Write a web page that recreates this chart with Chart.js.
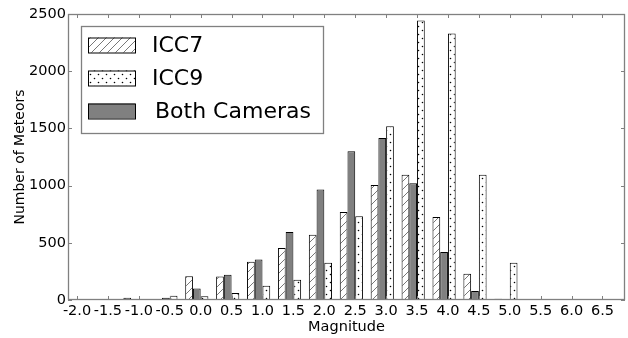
<!DOCTYPE html>
<html>
<head>
<meta charset="utf-8">
<script src="https://cdn.jsdelivr.net/npm/chart.js@4/dist/chart.umd.min.js"></script>
<style>
  html, body { margin: 0; background: #fff; }
</style>
</head>
<body>
<canvas id="meteorChart" width="628" height="338"></canvas>
<script>
// magnitude bins and counts per camera
const magnitudes = [-2.0, -1.5, -1.0, -0.5, 0.0, 0.5, 1.0, 1.5, 2.0, 2.5, 3.0, 3.5, 4.0, 4.5, 5.0, 5.5, 6.0, 6.5];
const icc7 = [4, 3, 20, 1, 208, 205, 335, 455, 570, 770, 1005, 1095, 725, 230, 12, 2, 1, 1];
const both = [2, 5, 4, 20, 101, 220, 355, 595, 965, 1300, 1415, 1020, 420, 78, 3, 2, 1, 1];
const icc9 = [0, 1, 1, 37, 33, 62, 125, 178, 325, 732, 1518, 2443, 2330, 1095, 325, 8, 1, 1];
const yTicks = [0, 500, 1000, 1500, 2000, 2500];

// matplotlib put the bars left of the tick (align='edge'), shift groups a bit
const GROUP_SHIFT = -0.0625;

Chart.defaults.font.family = "'DejaVu Sans', sans-serif";
Chart.defaults.font.size = 14;
Chart.defaults.color = '#000';

function hatchPattern() {
  const c = document.createElement('canvas');
  c.width = 8; c.height = 8;
  const g = c.getContext('2d');
  g.fillStyle = '#fff';
  g.fillRect(0, 0, 8, 8);
  g.strokeStyle = '#555';
  g.lineWidth = 0.8;
  g.beginPath();
  g.moveTo(0, 8); g.lineTo(8, 0);
  g.moveTo(-1, 1); g.lineTo(1, -1);
  g.moveTo(7, 9); g.lineTo(9, 7);
  g.stroke();
  return g.createPattern(c, 'repeat');
}

function dotPattern() {
  const c = document.createElement('canvas');
  c.width = 8; c.height = 8;
  const g = c.getContext('2d');
  g.fillStyle = '#fff';
  g.fillRect(0, 0, 8, 8);
  g.fillStyle = '#000';
  g.beginPath();
  g.arc(2.5, 2.5, 0.8, 0, Math.PI * 2);
  g.arc(6.5, 6.5, 0.8, 0, Math.PI * 2);
  g.fill();
  return g.createPattern(c, 'repeat');
}

const toPoints = vals => magnitudes.map((m, i) => ({ x: m + GROUP_SHIFT, y: vals[i] }));

// box frame + inward tick marks like matplotlib
const framePlugin = {
  id: 'frame',
  afterDatasetsDraw(chart) {
    const { ctx, chartArea: a, scales } = chart;
    ctx.save();
    ctx.strokeStyle = '#808080';
    ctx.lineWidth = 1;
    ctx.beginPath();
    scales.x.ticks.forEach(t => {
      const px = Math.round(scales.x.getPixelForValue(t.value)) + 0.5;
      ctx.moveTo(px, a.top); ctx.lineTo(px, a.top + 4);
      ctx.moveTo(px, a.bottom); ctx.lineTo(px, a.bottom - 4);
    });
    scales.y.ticks.forEach(t => {
      const py = Math.round(scales.y.getPixelForValue(t.value)) + 0.5;
      ctx.moveTo(a.left, py); ctx.lineTo(a.left + 4, py);
      ctx.moveTo(a.right, py); ctx.lineTo(a.right - 4, py);
    });
    ctx.stroke();
    ctx.lineWidth = 1.3;
    ctx.strokeRect(a.left + 0.5, a.top + 0.5, a.width - 1, a.height - 1);
    ctx.restore();
  }
};

// legend sits inside the axes, top-left
const boxLegend = {
  id: 'boxLegend',
  afterDraw(chart) {
    const { ctx } = chart;
    const ds = chart.data.datasets;
    const items = [ds[0], ds[2], ds[1]];
    const bx = 81, by = 26, bw = 242, bh = 107;
    ctx.save();
    ctx.fillStyle = '#fff';
    ctx.fillRect(bx, by, bw, bh);
    ctx.strokeStyle = '#808080';
    ctx.lineWidth = 1.3;
    ctx.strokeRect(bx + 0.5, by + 0.5, bw, bh);
    ctx.font = "22px 'DejaVu Sans', sans-serif";
    ctx.textBaseline = 'middle';
    items.forEach((d, i) => {
      const cy = by + 19 + i * 33;
      ctx.fillStyle = d.backgroundColor;
      ctx.fillRect(88, cy - 7.5, 47, 15);
      ctx.strokeStyle = '#000';
      ctx.lineWidth = 1;
      ctx.strokeRect(88.5, cy - 7, 47, 15);
      ctx.fillStyle = '#000';
      ctx.fillText(d.label, i === 2 ? 155 : 152, cy + 1);
    });
    ctx.restore();
  }
};

new Chart(document.getElementById('meteorChart'), {
  type: 'bar',
  data: {
    datasets: [
      { label: 'ICC7', data: toPoints(icc7), backgroundColor: hatchPattern() },
      { label: 'Both Cameras', data: toPoints(both), backgroundColor: '#808080' },
      { label: 'ICC9', data: toPoints(icc9), backgroundColor: dotPattern() }
    ]
  },
  options: {
    responsive: false,
    animation: false,
    layout: { padding: { top: 14, right: 3, left: 0, bottom: 0 } },
    datasets: {
      bar: {
        borderColor: '#000',
        borderWidth: 1,
        borderSkipped: false,
        categoryPercentage: 0.75,
        barPercentage: 1.0
      }
    },
    plugins: {
      legend: { display: false },
      tooltip: { enabled: false }
    },
    scales: {
      x: {
        type: 'linear',
        offset: false,
        min: -2.146,
        max: 6.864,
        grid: { display: false, drawTicks: false },
        border: { display: false },
        afterBuildTicks: s => { s.ticks = magnitudes.map(v => ({ value: v })); },
        afterFit: s => { s.height = 38; },
        ticks: {
          padding: 3,
          maxRotation: 0,
          autoSkip: false,
          font: { size: 14.5 },
          callback: v => v.toFixed(1)
        },
        title: { display: true, text: 'Magnitude', font: { size: 14.5 }, padding: { top: 0, bottom: 2 } }
      },
      y: {
        min: 0,
        max: 2500,
        grid: { display: false, drawTicks: false },
        border: { display: false },
        afterBuildTicks: s => { s.ticks = yTicks.map(v => ({ value: v })); },
        afterFit: s => { s.width = 68; },
        ticks: { padding: 2, font: { size: 14.5 }, callback: v => String(v) },
        title: { display: true, text: 'Number of Meteors', padding: { top: 12, bottom: 0 } }
      }
    }
  },
  plugins: [framePlugin, boxLegend]
});
</script>
</body>
</html>
